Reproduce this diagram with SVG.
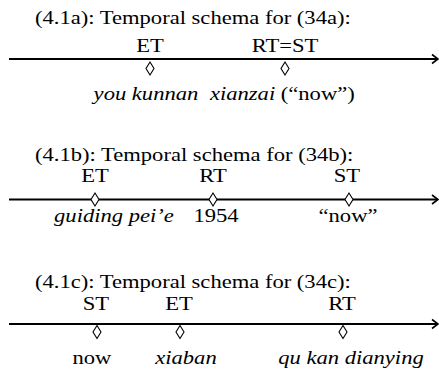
<svg xmlns="http://www.w3.org/2000/svg" width="439" height="373" viewBox="0 0 439 373">
  <style>
    text { font-family: "Liberation Serif", "Times New Roman", Times, serif; font-size: 18px; fill: #000; }
    .mid { text-anchor: middle; }
    .it { font-style: italic; }
    .axis { stroke: #000; stroke-width: 2.2; fill: none; }
    .head { stroke: #000; stroke-width: 1.6; fill: none; }
    .mark { stroke: #000; stroke-width: 1.1; fill: #fff; }
  </style>
  <defs>
    <path id="dia" d="M0,-6.5 L4,0 L0,6.5 L-4,0 Z" class="mark"/>
  </defs>

  <!-- timeline axes -->
  <g id="connectors">
    <line class="axis" x1="9" y1="59" x2="437" y2="59"/>
    <polyline class="head" points="432,54.5 438,59 432,63.5"/>
    <line class="axis" x1="9" y1="199.5" x2="437" y2="199.5"/>
    <polyline class="head" points="432,195 438,199.5 432,204"/>
    <line class="axis" x1="9" y1="324" x2="437" y2="324"/>
    <polyline class="head" points="432,319.5 438,324 432,328.5"/>
  </g>

  <!-- schema a -->
  <g id="schema-a">
    <use href="#dia" x="150" y="68.5"/>
    <use href="#dia" x="285" y="68.5"/>
    <!-- lettering is set wide: 18px type stretched horizontally -->
    <g transform="scale(1.255,1)">
      <text x="27.9" y="24">(4.1a): Temporal schema for (34a):</text>
      <text class="mid" x="119.5" y="52">ET</text>
      <text class="mid" x="227.1" y="52">RT=ST</text>
      <text class="mid it" x="116.3" y="100">you kunnan</text>
      <text x="167.3" y="100"><tspan class="it">xianzai</tspan> (“now”)</text>
    </g>
  </g>

  <!-- schema b -->
  <g id="schema-b">
    <use href="#dia" x="95" y="199.5"/>
    <use href="#dia" x="213" y="199.5"/>
    <use href="#dia" x="349" y="199.5"/>
    <g transform="scale(1.255,1)">
      <text x="27.9" y="161.5">(4.1b): Temporal schema for (34b):</text>
      <text class="mid" x="75.7" y="182">ET</text>
      <text class="mid" x="169.7" y="182">RT</text>
      <text class="mid" x="276.5" y="182">ST</text>
      <text class="mid it" x="90.8" y="222">guiding pei’e</text>
      <text class="mid" x="172.1" y="222">1954</text>
      <text class="mid" x="277.3" y="222">“now”</text>
    </g>
  </g>

  <!-- schema c -->
  <g id="schema-c">
    <use href="#dia" x="97" y="332"/>
    <use href="#dia" x="180" y="332"/>
    <use href="#dia" x="343" y="332"/>
    <g transform="scale(1.255,1)">
      <text x="27.9" y="288">(4.1c): Temporal schema for (34c):</text>
      <text class="mid" x="76.5" y="310">ST</text>
      <text class="mid" x="142.6" y="310">ET</text>
      <text class="mid" x="272.5" y="310">RT</text>
      <text class="mid" x="73.3" y="364">now</text>
      <text class="mid it" x="148.2" y="364">xiaban</text>
      <text class="mid it" x="279.7" y="364">qu kan dianying</text>
    </g>
  </g>
</svg>
